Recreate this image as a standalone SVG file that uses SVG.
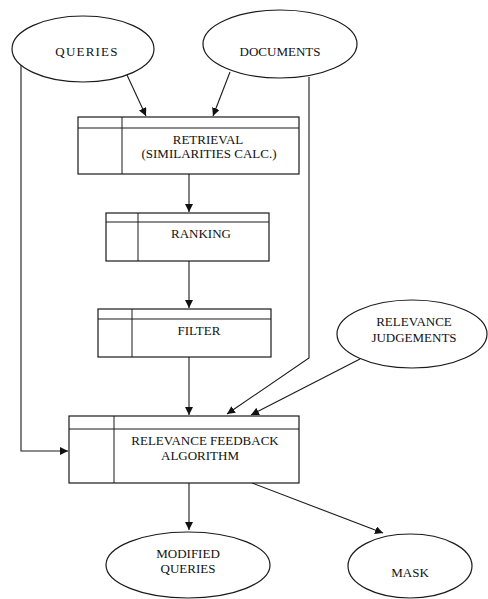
<svg xmlns="http://www.w3.org/2000/svg" width="488" height="599" viewBox="0 0 488 599">
<style>
.sh{fill:#fff;stroke:#1a1a1a;stroke-width:1.2}
.ln{fill:none;stroke:#1a1a1a;stroke-width:1}
.ar{fill:none;stroke:#1a1a1a;stroke-width:1.1;marker-end:url(#ah)}
text{font-family:"Liberation Serif","Times New Roman",serif;font-size:13px;fill:#111;text-anchor:middle}
</style>
<defs>
<marker id="ah" viewBox="0 0 10 10" refX="10" refY="5" markerWidth="8" markerHeight="8" markerUnits="userSpaceOnUse" orient="auto">
<path d="M0,0 L10,5 L0,10 z" fill="#111"/>
</marker>
</defs>
<rect width="488" height="599" fill="#fff"/>
<g id="connectors">
<polyline class="ar" points="21,65 21,451 68,451"/>
<polyline class="ar" points="309,77 309,358 227,414"/>
<line class="ar" x1="127" y1="75" x2="146" y2="116"/>
<line class="ar" x1="230" y1="72" x2="213" y2="116"/>
<line class="ar" x1="189" y1="174" x2="189" y2="212"/>
<line class="ar" x1="189" y1="261" x2="189" y2="308"/>
<line class="ar" x1="189" y1="357" x2="189" y2="415"/>
<line class="ar" x1="360" y1="359" x2="251" y2="415"/>
<line class="ar" x1="189" y1="483" x2="189" y2="530"/>
<line class="ar" x1="252" y1="483" x2="383" y2="533"/>
</g>
<g id="queries">
<ellipse class="sh" cx="83" cy="49" rx="71" ry="33"/>
<text x="87" y="56" letter-spacing="1.2">QUERIES</text>
</g>
<g id="documents">
<ellipse class="sh" cx="280" cy="44" rx="77" ry="34"/>
<text x="280" y="56">DOCUMENTS</text>
</g>
<g id="retrieval">
<rect class="sh" x="78" y="117" width="221" height="57"/>
<line class="ln" x1="78" y1="128" x2="299" y2="128"/>
<line class="ln" x1="122" y1="117" x2="122" y2="174"/>
<text x="208" y="144">RETRIEVAL</text>
<text x="209" y="158">(SIMILARITIES CALC.)</text>
</g>
<g id="ranking">
<rect class="sh" x="106" y="213" width="163" height="48"/>
<line class="ln" x1="106" y1="222" x2="269" y2="222"/>
<line class="ln" x1="138" y1="213" x2="138" y2="261"/>
<text x="201" y="238">RANKING</text>
</g>
<g id="filter">
<rect class="sh" x="98" y="309" width="173" height="48"/>
<line class="ln" x1="98" y1="319" x2="271" y2="319"/>
<line class="ln" x1="132" y1="309" x2="132" y2="357"/>
<text x="199" y="335">FILTER</text>
</g>
<g id="relevance-judgements">
<ellipse class="sh" cx="412" cy="334" rx="75" ry="34"/>
<text x="414" y="326">RELEVANCE</text>
<text x="414" y="342">JUDGEMENTS</text>
</g>
<g id="feedback">
<rect class="sh" x="69" y="416" width="230" height="67"/>
<line class="ln" x1="69" y1="429" x2="299" y2="429"/>
<line class="ln" x1="114" y1="416" x2="114" y2="483"/>
<text x="205" y="445">RELEVANCE FEEDBACK</text>
<text x="200" y="460">ALGORITHM</text>
</g>
<g id="modified-queries">
<ellipse class="sh" cx="188" cy="565" rx="82" ry="33"/>
<text x="188" y="558">MODIFIED</text>
<text x="188" y="573">QUERIES</text>
</g>
<g id="mask">
<ellipse class="sh" cx="410" cy="566" rx="62" ry="32"/>
<text x="410" y="577">MASK</text>
</g>
</svg>
